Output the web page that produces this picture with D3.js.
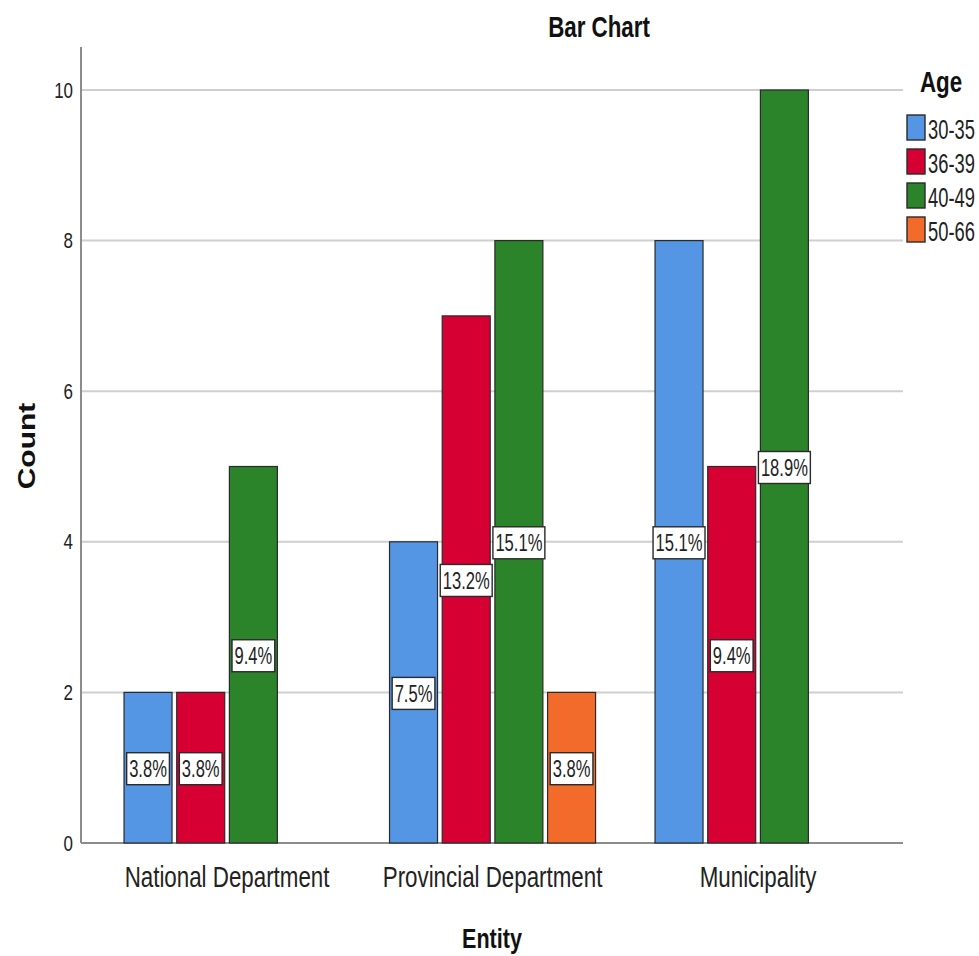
<!DOCTYPE html>
<html><head><meta charset="utf-8">
<script src="https://cdn.jsdelivr.net/npm/d3@7"></script>
<style>body{margin:0;background:#fff}svg{display:block}text{font-family:"Liberation Sans",Arial,sans-serif}</style>
</head><body><svg id="c" width="979" height="956"></svg>
<script>
const entities = ["National Department", "Provincial Department", "Municipality"];
const ages = ["30-35", "36-39", "40-49", "50-66"];
const counts30_35 = [2, 4, 8];
const counts36_39 = [2, 7, 5];
const counts40_49 = [5, 8, 10];
const counts50_66 = [0, 2, 0];
const yTicks = [0, 2, 4, 6, 8, 10];
const colors = ["#5596e4", "#d70032", "#2b842a", "#f26b2b"];

(function () {
const series = [counts30_35, counts36_39, counts40_49, counts50_66];
const total = d3.sum(series.flat());
const data = [];
entities.forEach((e, i) => ages.forEach((a, j) => {
  if (series[j][i] > 0) data.push({entity: e, age: a, value: series[j][i], ci: j});
}));

const SX = 0.77;
const svg = d3.select("#c");
const pLeft = 81, pRight = 903, pTop = 47, pBottom = 843;
const y = d3.scaleLinear().domain([0, 10]).range([pBottom, 90]);
const x0 = d3.scaleBand().domain(entities).range([94.3, 890.8]).paddingInner(0.224).paddingOuter(0.112);
const x1 = d3.scaleBand().domain(ages).range([0, x0.bandwidth()]).paddingInner(0.089);
const color = d3.scaleOrdinal().domain(ages).range(colors);

// gridlines
svg.append("g").selectAll("line").data(yTicks.filter(d => d > 0)).join("line")
  .attr("x1", pLeft).attr("x2", pRight).attr("y1", d => y(d)).attr("y2", d => y(d))
  .attr("stroke", "#cfcfcf").attr("stroke-width", 2);

// y axis
const yAxis = d3.axisLeft(y).tickValues(yTicks).tickSize(0).tickPadding(8 / SX);
const gy = svg.append("g").attr("transform", `translate(${pLeft},0)`).call(yAxis);
gy.select(".domain").remove();
gy.selectAll("text").attr("font-size", 22).attr("fill", "#222")
  .attr("font-family", "Liberation Sans, Arial, sans-serif").attr("transform", `scale(${SX},1)`);
svg.append("line").attr("x1", pLeft).attr("x2", pLeft).attr("y1", pTop).attr("y2", pBottom)
  .attr("stroke", "#8c8c8c").attr("stroke-width", 2);

// x axis
const xAxis = d3.axisBottom(x0).tickSize(0).tickPadding(23);
const gx = svg.append("g").attr("transform", `translate(0,${pBottom})`).call(xAxis);
gx.select(".domain").remove();
gx.selectAll("text").attr("font-size", 29).attr("fill", "#222")
  .attr("font-family", "Liberation Sans, Arial, sans-serif").attr("transform", `scale(${SX},1)`);
svg.append("line").attr("x1", pLeft).attr("x2", pRight).attr("y1", pBottom).attr("y2", pBottom)
  .attr("stroke", "#8c8c8c").attr("stroke-width", 2);

// bars
svg.append("g").selectAll("rect").data(data).join("rect")
  .attr("x", d => x0(d.entity) + x1(d.age))
  .attr("y", d => y(d.value))
  .attr("width", x1.bandwidth())
  .attr("height", d => y(0) - y(d.value))
  .attr("fill", d => color(d.age))
  .attr("stroke", "#2a2a2a").attr("stroke-width", 1.2);

// labels
const PS = 0.72;
const lg = svg.append("g").selectAll("g").data(data).join("g")
  .attr("transform", d => `translate(${x0(d.entity) + x1(d.age) + x1.bandwidth() / 2},${y(d.value / 2) + 1})`);
lg.each(function(d) {
  const g = d3.select(this);
  const txt = d3.format(".1%")(d.value / total);
  const t = g.append("text").attr("text-anchor", "middle").attr("dy", "0.36em")
    .attr("transform", `scale(${PS},1)`)
    .attr("font-size", 23).attr("fill", "#222").text(txt);
  const w = t.node().getComputedTextLength() * PS + 5;
  g.insert("rect", "text").attr("x", -w / 2).attr("y", -16).attr("width", w).attr("height", 32)
    .attr("fill", "#fff").attr("stroke", "#2a2a2a").attr("stroke-width", 1.4);
});

// titles
svg.append("text").attr("transform", `translate(599,37) scale(${SX},1)`).attr("text-anchor", "middle")
  .attr("font-size", 29).attr("font-weight", "bold").attr("fill", "#111").text("Bar Chart");
svg.append("text").attr("transform", `translate(35,446) rotate(-90) scale(1,${SX})`).attr("text-anchor", "middle")
  .attr("font-size", 30).attr("font-weight", "bold").attr("fill", "#111").text("Count");
svg.append("text").attr("transform", `translate(492,948) scale(${SX},1)`).attr("text-anchor", "middle")
  .attr("font-size", 28).attr("font-weight", "bold").attr("fill", "#111").text("Entity");

// legend
svg.append("text").attr("transform", `translate(920,92) scale(${SX},1)`).attr("font-size", 29).attr("font-weight", "bold")
  .attr("fill", "#111").text("Age");
const leg = svg.append("g").selectAll("g").data(ages).join("g")
  .attr("transform", (d, i) => `translate(907,${115 + i * 34})`);
leg.append("rect").attr("width", 18).attr("height", 25).attr("fill", d => color(d))
  .attr("stroke", "#2a2a2a").attr("stroke-width", 1.4);
leg.append("text").attr("transform", "translate(21,24) scale(0.68,1)").attr("font-size", 27)
  .attr("fill", "#222").text(d => d);
})();
</script></body></html>
